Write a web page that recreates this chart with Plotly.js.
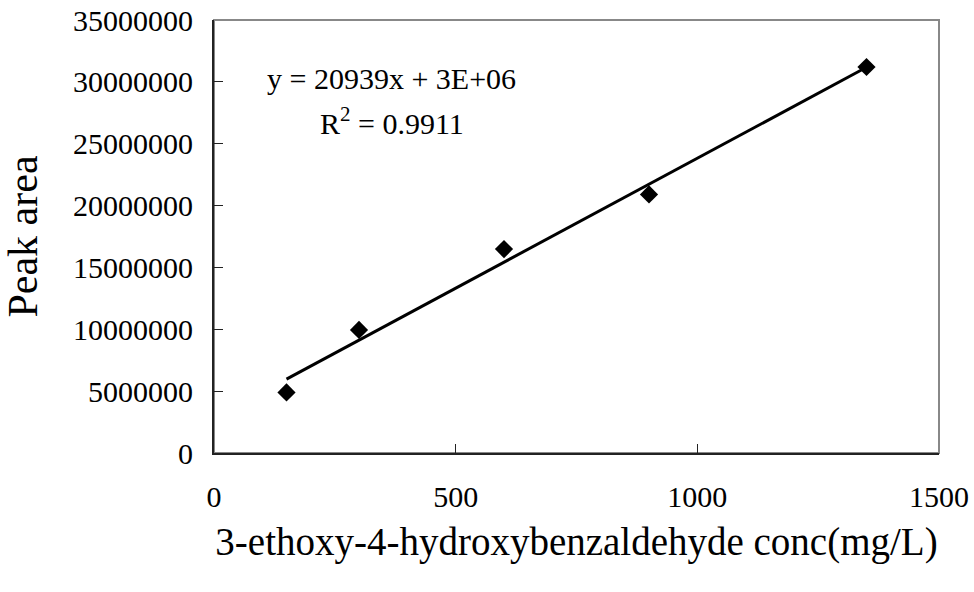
<!DOCTYPE html>
<html>
<head>
<meta charset="utf-8">
<script src="https://cdn.plot.ly/plotly-3.0.1.min.js"></script>
<style>html,body{margin:0;padding:0;background:#fff;}#chart{width:974px;height:592px;}</style>
</head>
<body>
<div id="chart"></div>
<script>
// Data
const concentration = [150, 300, 600, 900, 1350];          // mg/L
const peakArea = [4900000, 9950000, 16480000, 20900000, 31200000];
const equationText = "y = 20939x + 3E+06";
const r2Text = "R<sup>2</sup> = 0.9911";

// Linear least-squares trendline computed from the data
const n = concentration.length;
const mx = concentration.reduce((a, b) => a + b, 0) / n;
const my = peakArea.reduce((a, b) => a + b, 0) / n;
let sxy = 0, sxx = 0;
for (let i = 0; i < n; i++) {
  sxy += (concentration[i] - mx) * (peakArea[i] - my);
  sxx += (concentration[i] - mx) ** 2;
}
const slope = sxy / sxx;
const intercept = my - slope * mx;
const lineX = [Math.min(...concentration), Math.max(...concentration)];
const lineY = lineX.map(x => slope * x + intercept);

const font = "Liberation Serif";

const traces = [
  {
    x: lineX, y: lineY, type: "scatter", mode: "lines",
    line: {color: "#000", width: 3}, hoverinfo: "skip", showlegend: false
  },
  {
    x: concentration, y: peakArea, type: "scatter", mode: "markers",
    marker: {symbol: "diamond", size: 14, color: "#000"}, showlegend: false
  }
];

const layout = {
  width: 974, height: 592,
  margin: {l: 214, r: 35, t: 20, b: 139},
  paper_bgcolor: "#fff", plot_bgcolor: "#fff",
  font: {family: font, color: "#000", size: 30},
  showlegend: false,
  xaxis: {
    range: [0, 1500], tickvals: [0, 500, 1000, 1500], tickformat: "d",
    showgrid: false, zeroline: false,
    showline: true, linecolor: "#222", linewidth: 2,
    ticks: "inside", ticklen: 9, tickcolor: "#222", tickwidth: 1,
    ticklabelstandoff: 16,
    tickfont: {family: font, size: 30, color: "#000"},
    title: {text: "3-ethoxy-4-hydroxybenzaldehyde conc(mg/L)", font: {family: font, size: 39, color: "#000"}, standoff: 16}
  },
  yaxis: {
    range: [0, 35000000], dtick: 5000000, tickformat: "d",
    showgrid: false, zeroline: false,
    showline: true, linecolor: "#222", linewidth: 2,
    ticks: "inside", ticklen: 9, tickcolor: "#222", tickwidth: 1,
    ticklabelstandoff: 13,
    tickfont: {family: font, size: 30, color: "#000"},
    title: {text: "Peak area", font: {family: font, size: 42, color: "#000"}, standoff: 23}
  },
  shapes: [
    {type: "rect", xref: "paper", yref: "paper", x0: 0, x1: 1, y0: 0, y1: 1,
     line: {color: "#888", width: 2}, layer: "below"}
  ],
  annotations: [
    {xref: "paper", yref: "paper", x: 0.2455, y: 0.864, text: equationText, showarrow: false,
     xanchor: "center", yanchor: "middle", font: {family: font, size: 30, color: "#000"}},
    {xref: "paper", yref: "paper", x: 0.2455, y: 0.767, text: r2Text, showarrow: false,
     xanchor: "center", yanchor: "middle", font: {family: font, size: 30, color: "#000"}}
  ]
};

Plotly.newPlot("chart", traces, layout, {displayModeBar: false, staticPlot: true});
</script>
</body>
</html>
